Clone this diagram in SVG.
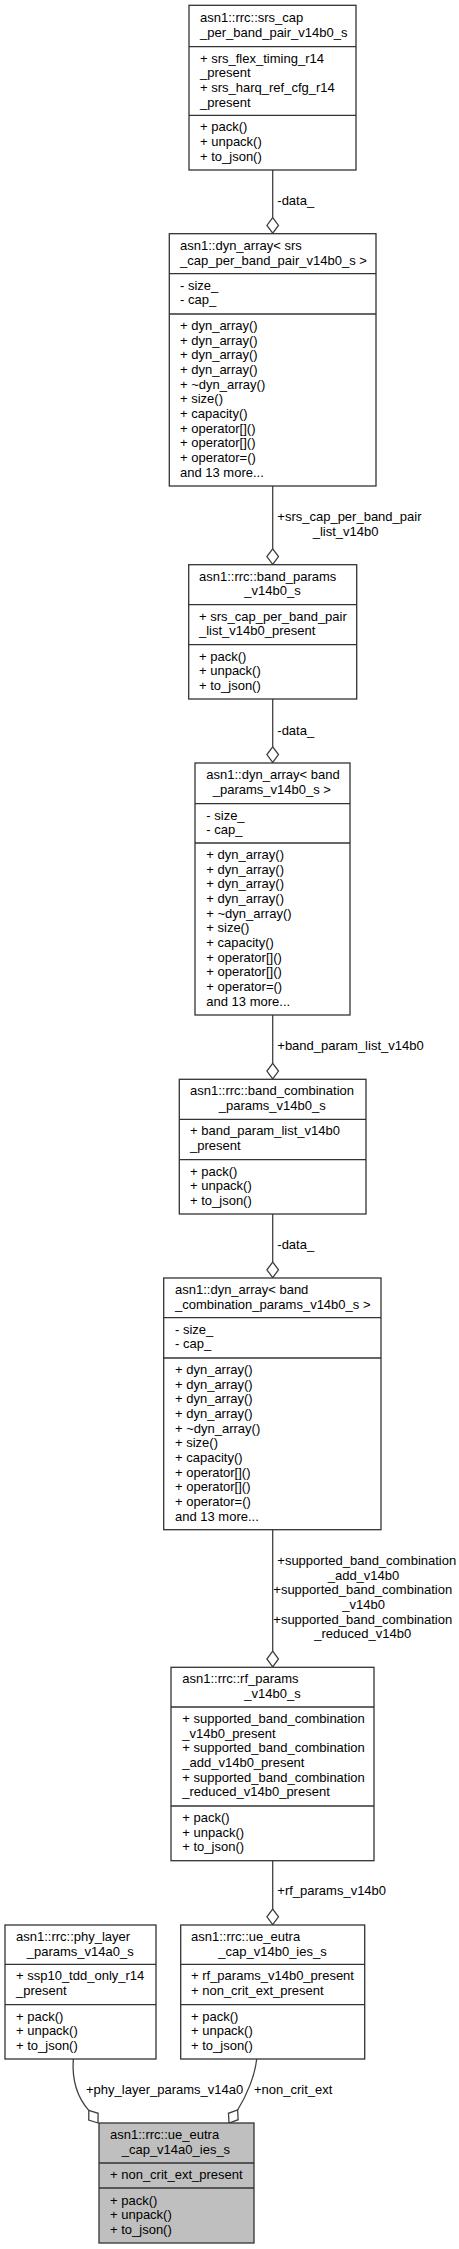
<svg xmlns="http://www.w3.org/2000/svg" xmlns:xlink="http://www.w3.org/1999/xlink" width="459" height="2249" viewBox="0 0 459 2249">
<style>
.box{fill:#ffffff;stroke:#333333;stroke-width:1.3}
.cur{fill:#bfbfbf;stroke:#333333;stroke-width:1.3}
.sep{stroke:#333333;stroke-width:1.3}
text{font-family:"Liberation Sans",Arial,sans-serif;font-size:13px;fill:#000000}
.e{fill:none;stroke:#404040;stroke-width:1.3}
.d{fill:#ffffff;stroke:#404040;stroke-width:1.3}
</style>
<defs>
<path id="dia" d="M0,0 L-5.8,-7.8 L0,-15.6 L5.8,-7.8 Z"/>
</defs>
<rect width="459" height="2249" fill="#ffffff"/>
<g id="connectors">
<path class="e" d="M272.7,170 V217.5"/>
<use href="#dia" class="d" transform="translate(272.7,233.2)"/>
<text x="277.3" y="205">-data_</text>
<path class="e" d="M272.7,486 V548.8"/>
<use href="#dia" class="d" transform="translate(272.7,564.4)"/>
<text x="277.3" y="521">+srs_cap_per_band_pair</text>
<text x="312.7" y="535.7">_list_v14b0</text>
<path class="e" d="M272.7,699 V746.8"/>
<use href="#dia" class="d" transform="translate(272.7,762.4)"/>
<text x="277.3" y="734.5">-data_</text>
<path class="e" d="M272.7,1015 V1063.3"/>
<use href="#dia" class="d" transform="translate(272.7,1078.9)"/>
<text x="277.3" y="1050">+band_param_list_v14b0</text>
<path class="e" d="M272.7,1214 V1262"/>
<use href="#dia" class="d" transform="translate(272.7,1277.6)"/>
<text x="277.3" y="1249">-data_</text>
<path class="e" d="M272.7,1529.7 V1651"/>
<use href="#dia" class="d" transform="translate(272.7,1666.8)"/>
<text x="277.3" y="1565">+supported_band_combination</text>
<text x="327.7" y="1579.7">_add_v14b0</text>
<text x="273.3" y="1594.3">+supported_band_combination</text>
<text x="342.3" y="1609">_v14b0</text>
<text x="273.3" y="1623.7">+supported_band_combination</text>
<text x="314.3" y="1638.3">_reduced_v14b0</text>
<path class="e" d="M272.7,1860.7 V1909.3"/>
<use href="#dia" class="d" transform="translate(272.7,1924.6)"/>
<text x="277.3" y="1895">+rf_params_v14b0</text>
<path class="e" d="M73.3,2059 C72,2078 76,2096 88.8,2110.4"/>
<use href="#dia" class="d" transform="translate(98,2123) rotate(-36)"/>
<text x="86" y="2094">+phy_layer_params_v14a0</text>
<path class="e" d="M256.7,2059 C255,2075 247,2095 237.6,2110"/>
<use href="#dia" class="d" transform="translate(229,2123) rotate(33.5)"/>
<text x="254" y="2094">+non_crit_ext</text>
</g>
<g id="node_srs_cap_per_band_pair">
<rect class="box" x="189" y="5.3" width="167" height="164.7"/>
<line class="sep" x1="189" y1="46.7" x2="356" y2="46.7"/>
<line class="sep" x1="189" y1="115.3" x2="356" y2="115.3"/>
<text x="200" y="22">asn1::rrc::srs_cap</text>
<text x="200" y="36.7">_per_band_pair_v14b0_s</text>
<text x="200" y="62.7">+ srs_flex_timing_r14</text>
<text x="200" y="77.3">_present</text>
<text x="200" y="92">+ srs_harq_ref_cfg_r14</text>
<text x="200" y="106.7">_present</text>
<text x="200" y="131.3">+ pack()</text>
<text x="200" y="146">+ unpack()</text>
<text x="200" y="160.7">+ to_json()</text>
</g>
<g id="node_dyn_array_srs">
<rect class="box" x="169.3" y="233.7" width="206.7" height="252.3"/>
<line class="sep" x1="169.3" y1="273.7" x2="376" y2="273.7"/>
<line class="sep" x1="169.3" y1="314" x2="376" y2="314"/>
<text x="180" y="250">asn1::dyn_array&lt; srs</text>
<text x="180" y="264.7">_cap_per_band_pair_v14b0_s &gt;</text>
<text x="180" y="289.7">- size_</text>
<text x="180" y="304.3">- cap_</text>
<text x="180" y="330">+ dyn_array()</text>
<text x="180" y="344.7">+ dyn_array()</text>
<text x="180" y="359.3">+ dyn_array()</text>
<text x="180" y="374">+ dyn_array()</text>
<text x="180" y="388.7">+ ~dyn_array()</text>
<text x="180" y="403.3">+ size()</text>
<text x="180" y="418">+ capacity()</text>
<text x="180" y="432.7">+ operator[]()</text>
<text x="180" y="447.3">+ operator[]()</text>
<text x="180" y="462">+ operator=()</text>
<text x="180" y="476.7">and 13 more...</text>
</g>
<g id="node_band_params">
<rect class="box" x="188.7" y="564.7" width="168" height="134.3"/>
<line class="sep" x1="188.7" y1="604.7" x2="356.7" y2="604.7"/>
<line class="sep" x1="188.7" y1="644.7" x2="356.7" y2="644.7"/>
<text x="199" y="580.7">asn1::rrc::band_params</text>
<text x="244.3" y="595.3">_v14b0_s</text>
<text x="199" y="620.7">+ srs_cap_per_band_pair</text>
<text x="199" y="635.3">_list_v14b0_present</text>
<text x="199" y="660.7">+ pack()</text>
<text x="199" y="675.3">+ unpack()</text>
<text x="199" y="690">+ to_json()</text>
</g>
<g id="node_dyn_array_band_params">
<rect class="box" x="195" y="763" width="155" height="252"/>
<line class="sep" x1="195" y1="803.7" x2="350" y2="803.7"/>
<line class="sep" x1="195" y1="843" x2="350" y2="843"/>
<text x="206.3" y="779">asn1::dyn_array&lt; band</text>
<text x="212.7" y="793.7">_params_v14b0_s &gt;</text>
<text x="206.3" y="819.7">- size_</text>
<text x="206.3" y="834.3">- cap_</text>
<text x="206.3" y="859">+ dyn_array()</text>
<text x="206.3" y="873.7">+ dyn_array()</text>
<text x="206.3" y="888.3">+ dyn_array()</text>
<text x="206.3" y="903">+ dyn_array()</text>
<text x="206.3" y="917.7">+ ~dyn_array()</text>
<text x="206.3" y="932.3">+ size()</text>
<text x="206.3" y="947">+ capacity()</text>
<text x="206.3" y="961.7">+ operator[]()</text>
<text x="206.3" y="976.3">+ operator[]()</text>
<text x="206.3" y="991">+ operator=()</text>
<text x="206.3" y="1005.7">and 13 more...</text>
</g>
<g id="node_band_combination_params">
<rect class="box" x="179.3" y="1079.3" width="186.7" height="134.7"/>
<line class="sep" x1="179.3" y1="1119.3" x2="366" y2="1119.3"/>
<line class="sep" x1="179.3" y1="1159.7" x2="366" y2="1159.7"/>
<text x="190" y="1095.3">asn1::rrc::band_combination</text>
<text x="218.7" y="1110">_params_v14b0_s</text>
<text x="190" y="1135.3">+ band_param_list_v14b0</text>
<text x="190" y="1150">_present</text>
<text x="190" y="1175.7">+ pack()</text>
<text x="190" y="1190.3">+ unpack()</text>
<text x="190" y="1205">+ to_json()</text>
</g>
<g id="node_dyn_array_band_combination">
<rect class="box" x="163.7" y="1278" width="217.3" height="251.7"/>
<line class="sep" x1="163.7" y1="1317.7" x2="381" y2="1317.7"/>
<line class="sep" x1="163.7" y1="1358" x2="381" y2="1358"/>
<text x="175" y="1294">asn1::dyn_array&lt; band</text>
<text x="175" y="1308.7">_combination_params_v14b0_s &gt;</text>
<text x="175" y="1333.7">- size_</text>
<text x="175" y="1348.3">- cap_</text>
<text x="175" y="1374">+ dyn_array()</text>
<text x="175" y="1388.7">+ dyn_array()</text>
<text x="175" y="1403.3">+ dyn_array()</text>
<text x="175" y="1418">+ dyn_array()</text>
<text x="175" y="1432.7">+ ~dyn_array()</text>
<text x="175" y="1447.3">+ size()</text>
<text x="175" y="1462">+ capacity()</text>
<text x="175" y="1476.7">+ operator[]()</text>
<text x="175" y="1491.3">+ operator[]()</text>
<text x="175" y="1506">+ operator=()</text>
<text x="175" y="1520.7">and 13 more...</text>
</g>
<g id="node_rf_params">
<rect class="box" x="171" y="1667.3" width="203" height="193.4"/>
<line class="sep" x1="171" y1="1707" x2="374" y2="1707"/>
<line class="sep" x1="171" y1="1806" x2="374" y2="1806"/>
<text x="182.3" y="1683.3">asn1::rrc::rf_params</text>
<text x="244.3" y="1698">_v14b0_s</text>
<text x="182.3" y="1723">+ supported_band_combination</text>
<text x="182.3" y="1737.7">_v14b0_present</text>
<text x="182.3" y="1752.3">+ supported_band_combination</text>
<text x="182.3" y="1767">_add_v14b0_present</text>
<text x="182.3" y="1781.7">+ supported_band_combination</text>
<text x="182.3" y="1796.3">_reduced_v14b0_present</text>
<text x="182.3" y="1822">+ pack()</text>
<text x="182.3" y="1836.7">+ unpack()</text>
<text x="182.3" y="1851.3">+ to_json()</text>
</g>
<g id="node_ue_eutra_cap_v14b0">
<rect class="box" x="180.7" y="1925" width="184" height="134"/>
<line class="sep" x1="180.7" y1="1964.3" x2="364.7" y2="1964.3"/>
<line class="sep" x1="180.7" y1="2004.7" x2="364.7" y2="2004.7"/>
<text x="191" y="1941">asn1::rrc::ue_eutra</text>
<text x="218.3" y="1955.7">_cap_v14b0_ies_s</text>
<text x="191" y="1980.3">+ rf_params_v14b0_present</text>
<text x="191" y="1995">+ non_crit_ext_present</text>
<text x="191" y="2020.7">+ pack()</text>
<text x="191" y="2035.3">+ unpack()</text>
<text x="191" y="2050">+ to_json()</text>
</g>
<g id="node_phy_layer_params">
<rect class="box" x="5" y="1925" width="151" height="134"/>
<line class="sep" x1="5" y1="1964.3" x2="156" y2="1964.3"/>
<line class="sep" x1="5" y1="2004.7" x2="156" y2="2004.7"/>
<text x="16" y="1941">asn1::rrc::phy_layer</text>
<text x="26.7" y="1955.7">_params_v14a0_s</text>
<text x="16" y="1980.3">+ ssp10_tdd_only_r14</text>
<text x="16" y="1995">_present</text>
<text x="16" y="2020.7">+ pack()</text>
<text x="16" y="2035.3">+ unpack()</text>
<text x="16" y="2050">+ to_json()</text>
</g>
<g id="node_ue_eutra_cap_v14a0">
<rect class="cur" x="99" y="2123" width="155" height="120"/>
<line class="sep" x1="99" y1="2163" x2="254" y2="2163"/>
<line class="sep" x1="99" y1="2188" x2="254" y2="2188"/>
<text x="110" y="2139">asn1::rrc::ue_eutra</text>
<text x="121.7" y="2153.7">_cap_v14a0_ies_s</text>
<text x="110" y="2179">+ non_crit_ext_present</text>
<text x="110" y="2204.7">+ pack()</text>
<text x="110" y="2219.3">+ unpack()</text>
<text x="110" y="2234">+ to_json()</text>
</g>
</svg>
